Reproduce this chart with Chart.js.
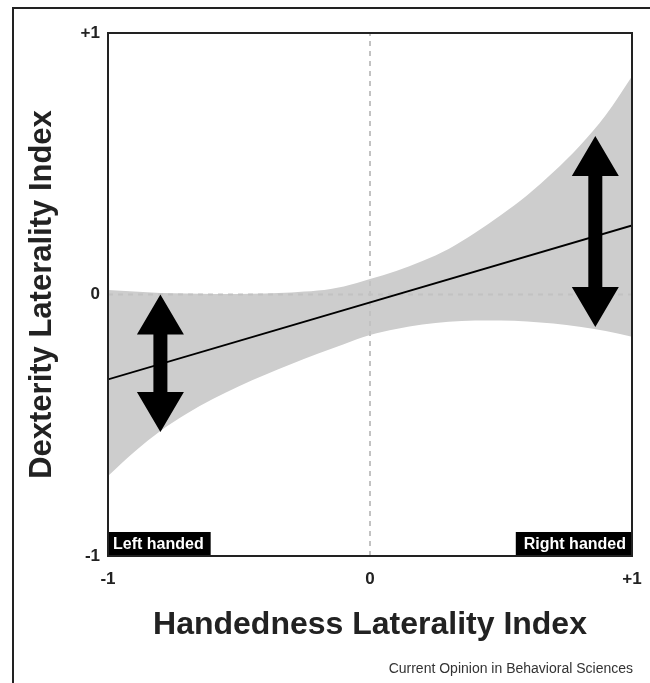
<!DOCTYPE html>
<html>
<head>
<meta charset="utf-8">
<script src="https://cdn.jsdelivr.net/npm/chart.js@4.4.1/dist/chart.umd.min.js"></script>
<style>
  html, body { margin: 0; padding: 0; background: #fff; }
  #wrap { position: relative; width: 650px; height: 683px; overflow: hidden; }
  #frame { position: absolute; left: 12px; top: 7px; width: 700px; height: 700px;
           border-left: 2px solid #222; border-top: 2px solid #222; }
  canvas { position: absolute; left: 0; top: 0; }
  #credit { position: absolute; right: 17px; top: 660px; color: #333;
            font: 14px "Liberation Sans", Arial, sans-serif; }
</style>
</head>
<body>
<div id="wrap">
  <div id="frame"></div>
  <canvas id="chart" width="650" height="683"></canvas>
  <div id="credit">Current Opinion in Behavioral Sciences</div>
</div>
<script>
// confidence band
const BAND_X = [-1, -0.9, -0.8, -0.7, -0.6, -0.5, -0.4, -0.3, -0.2, -0.1, 0,
                0.1, 0.2, 0.3, 0.4, 0.5, 0.6, 0.7, 0.8, 0.9, 1];
const BAND_UPPER = [0.017, 0.011, 0.006, 0.004, 0.002, 0.002, 0.004, 0.008, 0.015, 0.031, 0.059,
                    0.090, 0.128, 0.174, 0.235, 0.304, 0.380, 0.468, 0.568, 0.686, 0.835];
const BAND_LOWER = [-0.694, -0.602, -0.522, -0.456, -0.400, -0.351, -0.307, -0.266, -0.227, -0.190, -0.155,
                    -0.132, -0.115, -0.104, -0.099, -0.099, -0.103, -0.111, -0.123, -0.140, -0.162];

// regression line
const FIT_X = [-1, 1];
const FIT_Y = [-0.325, 0.264];

// double arrows (spread at each end)
const ARROW_X      = [-0.8, 0.86];
const ARROW_TOP    = [0.0, 0.606];
const ARROW_BOTTOM = [-0.526, -0.124];

const TICKS = [-1, 0, 1];
const CORNER_LABELS = ["Left handed", "Right handed"];

const FONT = "'Liberation Sans', Arial, Helvetica, sans-serif";
const INK = "#222";

const pts = (xs, ys) => xs.map((x, i) => ({ x, y: ys[i] }));
const tickLabel = v => v > 0 ? "+" + v : String(v);

function drawArrow(ctx, x, yTop, yBot) {
  const hw = 23.5, hl = 40, sw = 7;
  ctx.beginPath();
  ctx.moveTo(x, yTop);
  ctx.lineTo(x + hw, yTop + hl);
  ctx.lineTo(x + sw, yTop + hl);
  ctx.lineTo(x + sw, yBot - hl);
  ctx.lineTo(x + hw, yBot - hl);
  ctx.lineTo(x, yBot);
  ctx.lineTo(x - hw, yBot - hl);
  ctx.lineTo(x - sw, yBot - hl);
  ctx.lineTo(x - sw, yTop + hl);
  ctx.lineTo(x - hw, yTop + hl);
  ctx.closePath();
  ctx.fill();
}

const overlay = {
  id: "overlay",
  afterDatasetsDraw(chart) {
    const { ctx, chartArea: a, scales: { x, y } } = chart;
    ctx.save();
    ctx.fillStyle = "#000";
    ARROW_X.forEach((v, i) => {
      drawArrow(ctx, x.getPixelForValue(v), y.getPixelForValue(ARROW_TOP[i]), y.getPixelForValue(ARROW_BOTTOM[i]));
    });

    // corner tags
    ctx.font = "bold 16px " + FONT;
    ctx.textBaseline = "middle";
    const h = 24;
    const lw = ctx.measureText(CORNER_LABELS[0]).width + 12;
    ctx.fillStyle = "#000";
    ctx.fillRect(a.left, a.bottom - h, lw, h);
    const rw = ctx.measureText(CORNER_LABELS[1]).width + 14;
    ctx.fillRect(a.right - rw, a.bottom - h, rw, h);
    ctx.fillStyle = "#fff";
    ctx.textAlign = "left";
    ctx.fillText(CORNER_LABELS[0], a.left + 5, a.bottom - h / 2 + 1);
    ctx.textAlign = "right";
    ctx.fillText(CORNER_LABELS[1], a.right - 6, a.bottom - h / 2 + 1);

    // plot frame
    ctx.strokeStyle = INK;
    ctx.lineWidth = 2;
    ctx.strokeRect(a.left, a.top, a.right - a.left, a.bottom - a.top);
    ctx.restore();
  }
};

new Chart(document.getElementById("chart"), {
  type: "line",
  data: {
    datasets: [
      {
        data: pts(BAND_X, BAND_UPPER),
        borderWidth: 0, pointRadius: 0,
        backgroundColor: "#cdcdcd",
        fill: "+1",
        cubicInterpolationMode: "monotone",
        order: 3
      },
      {
        data: pts(BAND_X, BAND_LOWER),
        borderWidth: 0, pointRadius: 0,
        fill: false,
        cubicInterpolationMode: "monotone",
        order: 3
      },
      {
        data: [{ x: 0, y: -1 }, { x: 0, y: 1 }],
        borderColor: "#c2c2c2", borderWidth: 2, borderDash: [5, 5],
        pointRadius: 0, fill: false, order: 2
      },
      {
        data: [{ x: -1, y: 0 }, { x: 1, y: 0 }],
        borderColor: "#c2c2c2", borderWidth: 2, borderDash: [5, 5],
        pointRadius: 0, fill: false, order: 2
      },
      {
        data: pts(FIT_X, FIT_Y),
        borderColor: "#000", borderWidth: 1.8,
        pointRadius: 0, fill: false, order: 1
      }
    ]
  },
  options: {
    responsive: false,
    animation: false,
    layout: { padding: { left: 0, top: 33, right: 18, bottom: 0 } },
    plugins: { legend: { display: false }, tooltip: { enabled: false } },
    scales: {
      x: {
        type: "linear", min: -1, max: 1,
        afterBuildTicks: s => { s.ticks = TICKS.map(v => ({ value: v })); },
        afterFit: s => { s.height = 127; s.paddingLeft = 0; s.paddingRight = 0; },
        grid: { display: false, drawTicks: false },
        border: { display: false },
        ticks: {
          callback: tickLabel, padding: 13, maxRotation: 0,
          color: INK, font: { family: FONT, size: 17, weight: "bold" }
        },
        title: {
          display: true, text: "Handedness Laterality Index", color: INK,
          font: { family: FONT, size: 32, weight: "bold" },
          padding: { top: 0, bottom: 39 }
        }
      },
      y: {
        type: "linear", min: -1, max: 1,
        afterBuildTicks: s => { s.ticks = TICKS.map(v => ({ value: v })); },
        afterFit: s => { s.width = 108; s.paddingTop = 0; s.paddingBottom = 0; },
        grid: { display: false, drawTicks: false },
        border: { display: false },
        ticks: {
          callback: tickLabel, padding: 8,
          color: INK, font: { family: FONT, size: 17, weight: "bold" }
        },
        title: {
          display: true, text: "Dexterity Laterality Index", color: INK,
          font: { family: FONT, size: 31, weight: "bold" },
          padding: { top: 24, bottom: 0 }
        }
      }
    }
  },
  plugins: [overlay]
});
</script>
</body>
</html>
